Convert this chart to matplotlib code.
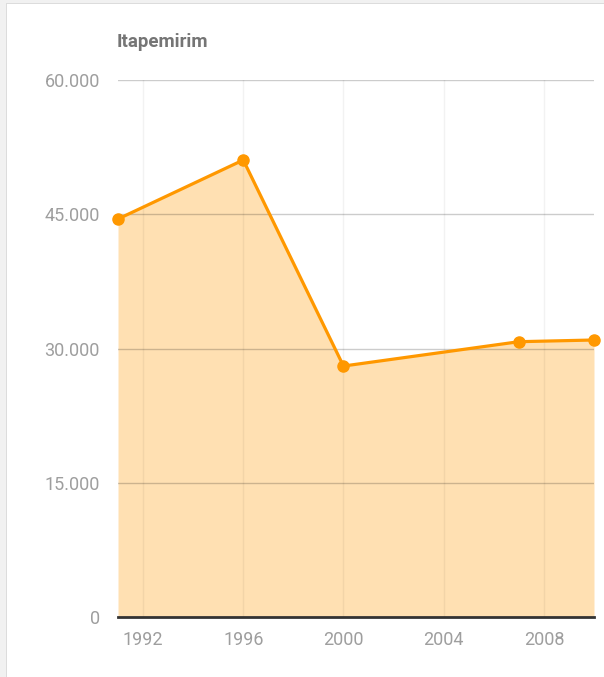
import matplotlib
matplotlib.use('Agg')
import matplotlib.pyplot as plt
from matplotlib.patches import Rectangle

# dados
anos = [1991, 1996, 2000, 2007, 2010]
populacao = [44470, 51060, 28040, 30760, 30950]
yticks = [0, 15000, 30000, 45000, 60000]
ytick_labels = ['0', '15.000', '30.000', '45.000', '60.000']
xticks = [1992, 1996, 2000, 2004, 2008]
titulo = 'Itapemirim'

plt.rcParams['font.family'] = ['Liberation Sans Narrow', 'Roboto', 'DejaVu Sans']

fig = plt.figure(figsize=(6.04, 6.77), dpi=100)
fig.patch.set_facecolor('white')

# moldura cinza da pagina (esquerda e topo)
fig.patches.append(Rectangle((0, 0), 6 / 604, 1, transform=fig.transFigure,
                             facecolor='#f1f1f1', edgecolor='none', zorder=0))
fig.patches.append(Rectangle((6 / 604, 0), 1.2 / 604, 1 - 3 / 677, transform=fig.transFigure,
                             facecolor='#dcdcdc', edgecolor='none', zorder=0))
fig.patches.append(Rectangle((0, 1 - 3 / 677), 1, 3 / 677, transform=fig.transFigure,
                             facecolor='#f1f1f1', edgecolor='none', zorder=0))
fig.patches.append(Rectangle((6 / 604, 1 - 4 / 677), 1, 1.2 / 677, transform=fig.transFigure,
                             facecolor='#dcdcdc', edgecolor='none', zorder=0))

ax = fig.add_axes([118 / 604, 60 / 677, 476 / 604, 537 / 677])
ax.set_facecolor('none')

ax.fill_between(anos, populacao, 0, color='#ffe0b2', lw=0, zorder=1)
ax.plot(anos, populacao, color='#ff9800', lw=2.3, marker='o', ms=8,
        clip_on=False, zorder=4)

ax.set_xlim(1991, 2010)
ax.set_ylim(0, 60000)

# grades: horizontais mais escuras, verticais bem claras
for y in yticks[1:]:
    ax.axhline(y, color='#000000', alpha=0.2, lw=1, zorder=2)
for x in xticks:
    ax.axvline(x, color='#000000', alpha=0.05, lw=1, zorder=2)
ax.axhline(0, color='#333333', lw=2, zorder=5, clip_on=False)

ax.set_yticks(yticks)
ax.set_yticklabels(ytick_labels)
ax.set_xticks(xticks)
ax.set_xticklabels([str(x) for x in xticks])
ax.tick_params(axis='both', length=0, labelsize=13, colors='#9e9e9e')
ax.tick_params(axis='y', pad=13)
ax.tick_params(axis='x', pad=10)

for s in ax.spines.values():
    s.set_visible(False)

fig.text(117 / 604, 1 - 42 / 677, titulo, fontsize=13.5, fontweight='bold',
         color='#757575', va='center', ha='left')

fig.savefig('out.png', dpi=100)
